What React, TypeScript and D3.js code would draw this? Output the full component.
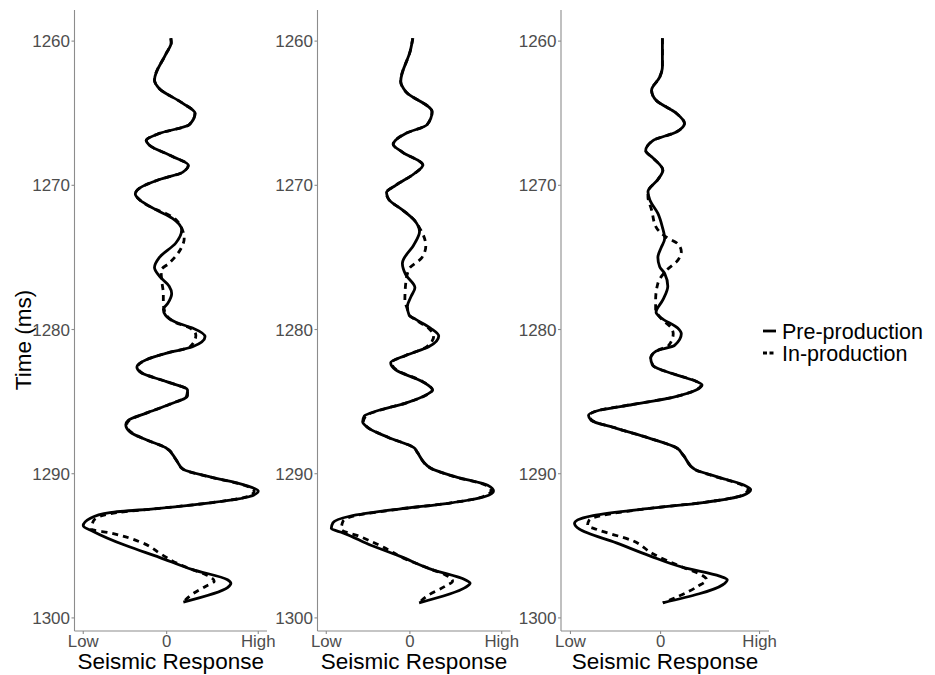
import React from "react";
import * as d3 from "d3";

// Seismic traces (time in ms, normalised amplitude) for three wells
type Pt = [number, number];

const well1Pre: Pt[] = [
  [1259.8, 0.05], [1260.1, 0.055], [1260.9, -0.01], [1262.7, -0.146], [1263.3, -0.087],
  [1264.3, 0.19], [1265.0, 0.34], [1265.8, 0.27], [1266.4, -0.087], [1266.9, -0.245],
  [1267.2, -0.21], [1268.0, 0.07], [1268.6, 0.26], [1269.1, 0.19], [1269.6, -0.087],
  [1270.2, -0.325], [1270.6, -0.376], [1271.0, -0.325], [1271.7, -0.126], [1272.3, 0.07],
  [1273.1, 0.18], [1274.0, 0.11], [1275.0, -0.087], [1275.7, -0.146], [1276.3, -0.087],
  [1277.0, 0.03], [1277.5, 0.06], [1278.2, 0.012], [1278.6, -0.04], [1279.0, -0.015],
  [1279.5, 0.11], [1279.9, 0.31], [1280.5, 0.46], [1281.2, 0.31], [1281.65, -0.01],
  [1282.1, -0.245], [1282.6, -0.357], [1283.0, -0.305], [1283.6, -0.01], [1284.2, 0.25],
  [1284.6, 0.25], [1285.2, 0.03], [1285.8, -0.245], [1286.3, -0.46], [1286.6, -0.49],
  [1287.1, -0.44], [1287.65, -0.245], [1288.2, -0.01], [1289.0, 0.11], [1289.7, 0.2],
  [1290.2, 0.51], [1290.8, 0.945], [1291.2, 1.098], [1291.6, 0.985], [1292.0, 0.55],
  [1292.4, -0.087], [1292.7, -0.68], [1293.1, -0.92], [1293.6, -1.0], [1294.0, -0.88],
  [1295.0, -0.48], [1295.8, -0.087], [1296.65, 0.31], [1297.35, 0.73], [1297.6, 0.77],
  [1297.9, 0.73], [1298.9, 0.2],
];

const well1In: Pt[] = [
  [1259.8, 0.05], [1260.1, 0.055], [1260.9, -0.01], [1262.7, -0.146], [1263.3, -0.087],
  [1264.3, 0.19], [1265.0, 0.34], [1265.8, 0.27], [1266.4, -0.087], [1266.9, -0.245],
  [1267.2, -0.21], [1268.0, 0.07], [1268.6, 0.26], [1269.1, 0.19], [1269.6, -0.087],
  [1270.2, -0.325], [1270.6, -0.376], [1271.0, -0.325], [1271.7, -0.12], [1271.95, -0.01],
  [1272.5, 0.13], [1273.7, 0.21], [1274.4, 0.17], [1275.4, 0.03], [1275.9, -0.067],
  [1276.8, -0.055], [1277.5, -0.04], [1278.1, -0.04], [1278.6, -0.03], [1279.0, -0.005],
  [1279.5, 0.1], [1279.9, 0.28], [1280.4, 0.35], [1281.2, 0.28], [1281.65, -0.01],
  [1282.1, -0.245], [1282.6, -0.35], [1283.0, -0.3], [1283.6, -0.01], [1284.2, 0.25],
  [1284.6, 0.24], [1285.2, 0.03], [1285.8, -0.245], [1286.3, -0.45], [1286.6, -0.48],
  [1287.1, -0.43], [1287.65, -0.245], [1288.2, -0.01], [1289.0, 0.11], [1289.7, 0.2],
  [1290.2, 0.5], [1290.8, 0.93], [1291.2, 1.05], [1291.6, 0.96], [1292.0, 0.55],
  [1292.4, -0.087], [1292.7, -0.6], [1293.0, -0.82], [1293.3, -0.88], [1293.85, -0.9],
  [1294.1, -0.68], [1294.8, -0.29], [1295.6, -0.06], [1296.2, 0.12], [1296.65, 0.31],
  [1297.0, 0.47], [1297.45, 0.57], [1297.8, 0.47], [1298.3, 0.32], [1298.9, 0.2],
];

const well2Pre: Pt[] = [
  [1259.8, 0.035], [1260.6, 0.008], [1262.8, -0.11], [1263.5, -0.05], [1264.9, 0.265],
  [1265.8, 0.205], [1266.4, -0.05], [1267.15, -0.2], [1267.7, -0.09], [1268.6, 0.155],
  [1269.2, 0.05], [1270.0, -0.17], [1270.5, -0.28], [1271.0, -0.25], [1271.7, -0.09],
  [1272.4, 0.05], [1273.2, 0.115], [1274.1, 0.05], [1275.4, -0.09], [1276.2, -0.05],
  [1277.1, 0.06], [1277.7, 0.015], [1278.4, -0.03], [1279.0, -0.01], [1279.3, 0.07],
  [1279.9, 0.245], [1280.45, 0.345], [1281.2, 0.225], [1281.8, -0.05], [1282.3, -0.23],
  [1282.8, -0.17], [1283.6, 0.145], [1284.2, 0.27], [1284.5, 0.205], [1285.1, -0.05],
  [1285.6, -0.37], [1286.0, -0.545], [1286.4, -0.565], [1286.8, -0.505], [1287.5, -0.25],
  [1288.2, 0.05], [1288.5, 0.087], [1289.6, 0.245], [1290.2, 0.54], [1290.8, 0.93],
  [1291.2, 1.0], [1291.6, 0.89], [1292.05, 0.46], [1292.45, -0.13], [1292.95, -0.72],
  [1293.4, -0.92], [1293.8, -0.94], [1294.1, -0.8], [1295.0, -0.45], [1295.7, -0.13],
  [1296.65, 0.265], [1297.35, 0.66], [1297.6, 0.72], [1297.9, 0.66], [1298.95, 0.11],
];

const well2In: Pt[] = [
  [1259.8, 0.035], [1260.6, 0.008], [1262.8, -0.11], [1263.5, -0.05], [1264.9, 0.265],
  [1265.8, 0.205], [1266.4, -0.05], [1267.15, -0.2], [1267.7, -0.09], [1268.6, 0.155],
  [1269.2, 0.05], [1270.0, -0.17], [1270.5, -0.28], [1271.0, -0.25], [1271.7, -0.09],
  [1272.4, 0.05], [1272.9, 0.11], [1274.2, 0.19], [1275.0, 0.145], [1275.8, -0.01],
  [1276.8, -0.05], [1277.95, -0.06], [1278.6, -0.03], [1279.0, -0.01], [1279.3, 0.06],
  [1279.9, 0.22], [1280.45, 0.285], [1281.2, 0.2], [1281.8, -0.05], [1282.3, -0.22],
  [1282.8, -0.16], [1283.6, 0.15], [1284.2, 0.27], [1284.5, 0.21], [1285.1, -0.05],
  [1285.6, -0.36], [1286.0, -0.53], [1286.4, -0.555], [1286.8, -0.5], [1287.5, -0.25],
  [1288.2, 0.05], [1288.5, 0.087], [1289.6, 0.245], [1290.2, 0.53], [1290.8, 0.91],
  [1291.2, 0.97], [1291.6, 0.87], [1292.05, 0.46], [1292.45, -0.12], [1292.95, -0.68],
  [1293.3, -0.8], [1293.85, -0.82], [1294.35, -0.6], [1295.3, -0.25], [1295.7, -0.13],
  [1296.65, 0.265], [1297.0, 0.42], [1297.45, 0.51], [1297.8, 0.42], [1298.5, 0.2],
  [1298.95, 0.11],
];

const well3Pre: Pt[] = [
  [1259.8, 0.02], [1261.8, 0.02], [1262.5, -0.01], [1263.4, -0.1], [1264.1, -0.05],
  [1265.0, 0.175], [1265.7, 0.265], [1266.3, 0.175], [1266.9, -0.085], [1267.6, -0.165],
  [1268.1, -0.085], [1268.95, 0.025], [1269.6, -0.03], [1270.45, -0.14], [1271.0, -0.12],
  [1271.95, -0.03], [1272.9, 0.02], [1273.7, 0.045], [1274.3, 0.008], [1275.0, -0.03],
  [1275.65, -0.01], [1276.1, 0.045], [1277.0, 0.08], [1277.95, 0.025], [1278.8, -0.05],
  [1279.2, 0.008], [1279.9, 0.19], [1280.3, 0.23], [1281.1, 0.155], [1281.5, -0.05],
  [1282.0, -0.11], [1282.5, -0.085], [1283.15, 0.175], [1283.6, 0.395], [1283.85, 0.46],
  [1284.2, 0.395], [1284.7, 0.135], [1285.2, -0.31], [1285.6, -0.68], [1285.95, -0.8],
  [1286.3, -0.77], [1286.85, -0.49], [1287.55, -0.12], [1288.2, 0.175], [1288.7, 0.25],
  [1289.7, 0.38], [1290.2, 0.62], [1290.8, 0.93], [1291.1, 1.0], [1291.5, 0.915],
  [1292.0, 0.47], [1292.4, -0.12], [1292.9, -0.75], [1293.2, -0.92], [1293.45, -0.955],
  [1293.85, -0.9], [1294.8, -0.49], [1295.7, -0.12], [1296.5, 0.25], [1297.1, 0.655],
  [1297.35, 0.74], [1297.7, 0.69], [1298.95, 0.025],
];

const well3In: Pt[] = [
  [1259.8, 0.02], [1261.8, 0.02], [1262.5, -0.01], [1263.4, -0.1], [1264.1, -0.05],
  [1265.0, 0.175], [1265.7, 0.265], [1266.3, 0.175], [1266.9, -0.085], [1267.6, -0.165],
  [1268.1, -0.085], [1268.95, 0.025], [1269.6, -0.03], [1270.45, -0.14], [1270.8, -0.14],
  [1271.7, -0.1], [1272.9, -0.05], [1273.6, 0.065], [1274.05, 0.19], [1274.6, 0.23],
  [1275.2, 0.19], [1275.9, 0.065], [1276.8, -0.03], [1277.95, -0.055], [1278.6, -0.055],
  [1279.2, 0.0], [1279.9, 0.12], [1280.3, 0.14], [1281.1, 0.09], [1281.5, -0.05],
  [1282.0, -0.11], [1282.5, -0.085], [1283.15, 0.18], [1283.6, 0.4], [1283.85, 0.45],
  [1284.2, 0.39], [1284.7, 0.135], [1285.2, -0.31], [1285.6, -0.68], [1285.95, -0.79],
  [1286.3, -0.76], [1286.85, -0.49], [1287.55, -0.12], [1288.2, 0.175], [1288.7, 0.25],
  [1289.7, 0.38], [1290.2, 0.61], [1290.8, 0.91], [1291.1, 0.97], [1291.5, 0.9],
  [1292.0, 0.47], [1292.4, -0.12], [1292.9, -0.65], [1293.2, -0.79], [1293.6, -0.81],
  [1293.85, -0.715], [1294.65, -0.31], [1295.55, -0.085], [1296.5, 0.25], [1297.0, 0.45],
  [1297.35, 0.51], [1297.8, 0.415], [1298.5, 0.2], [1298.95, 0.025],
];

const seriesNames = ["Pre-production", "In-production"];
const timeTicks = [1260, 1270, 1280, 1290, 1300];
const ampTickLabels = ["Low", "0", "High"];

const wells = [
  { pre: well1Pre, inProd: well1In },
  { pre: well2Pre, inProd: well2In },
  { pre: well3Pre, inProd: well3In },
];

// Layout
const W = 935;
const H = 675;
const PANEL_TOP = 10;
const PANEL_BOTTOM = 631;
const panelX: [number, number][] = [
  [74.5, 267],
  [317.5, 510.5],
  [561, 769],
];
const FONT = "'Liberation Sans', Arial, Helvetica, sans-serif";
const AXIS_GREY = "#8c8c8c";
const TEXT_GREY = "#4d4d4d";
const LINE_W = 2.8;
const DASH = "6 5";

// Shared amplitude and time extents (all panels use the same limits)
const allPts = wells.flatMap((w) => [...w.pre, ...w.inProd]);
const [ampLo, ampHi] = d3.extent(allPts, (d) => d[1]) as [number, number];
const [tLo, tHi] = d3.extent(allPts, (d) => d[0]) as [number, number];
const ampPad = (ampHi - ampLo) * 0.05;
const tPad = (tHi - tLo) * 0.05;
const ampTicks = [ampLo, 0, ampHi];

const yScale = d3
  .scaleLinear()
  .domain([tLo - tPad, tHi + tPad])
  .range([PANEL_TOP, PANEL_BOTTOM]);

function Label(props: {
  x: number;
  y: number;
  size: number;
  anchor?: string;
  fill?: string;
  rotate?: number;
  children: React.ReactNode;
}) {
  const { x, y, size, anchor = "start", fill = "#000", rotate = 0, children } = props;
  return (
    <text
      transform={`translate(${x},${y})${rotate ? ` rotate(${rotate})` : ""}`}
      fontFamily={FONT}
      fontSize={size}
      textAnchor={anchor}
      fill={fill}
    >
      {children}
    </text>
  );
}

function Panel({ idx }: { idx: number }) {
  const [x0, x1] = panelX[idx];
  const x = d3.scaleLinear().domain([ampLo - ampPad, ampHi + ampPad]).range([x0, x1]);
  const line = d3
    .line<Pt>()
    .x((d) => x(d[1]))
    .y((d) => yScale(d[0]))
    .curve(d3.curveMonotoneY);
  const w = wells[idx];
  return (
    <g>
      {/* axes */}
      <line x1={x0} x2={x0} y1={PANEL_TOP} y2={PANEL_BOTTOM} stroke={AXIS_GREY} strokeWidth={1.1} />
      <line x1={x0} x2={x1} y1={PANEL_BOTTOM} y2={PANEL_BOTTOM} stroke={AXIS_GREY} strokeWidth={1.1} />
      {timeTicks.map((t) => (
        <g key={t}>
          <line x1={x0 - 3} x2={x0} y1={yScale(t)} y2={yScale(t)} stroke={AXIS_GREY} strokeWidth={1.1} />
          <Label x={x0 - 4.5} y={yScale(t) + 6} size={17} anchor="end" fill={TEXT_GREY}>
            {t}
          </Label>
        </g>
      ))}
      {ampTicks.map((v, i) => (
        <g key={i}>
          <line x1={x(v)} x2={x(v)} y1={PANEL_BOTTOM} y2={PANEL_BOTTOM + 3} stroke={AXIS_GREY} strokeWidth={1.1} />
          <Label x={x(v)} y={646.5} size={16.8} anchor="middle" fill={TEXT_GREY}>
            {ampTickLabels[i]}
          </Label>
        </g>
      ))}
      <Label x={(x0 + x1) / 2} y={669} size={22.5} anchor="middle">
        Seismic Response
      </Label>
      {/* traces */}
      <path d={line(w.pre) ?? ""} fill="none" stroke="#000" strokeWidth={LINE_W} strokeLinejoin="round" />
      <path
        d={line(w.inProd) ?? ""}
        fill="none"
        stroke="#000"
        strokeWidth={LINE_W}
        strokeDasharray={DASH}
        strokeLinejoin="round"
      />
    </g>
  );
}

export default function App() {
  return (
    <svg
      width={W}
      height={H}
      style={{ position: "absolute", left: 0, top: 0, display: "block", background: "#fff" }}
    >
      <rect width={W} height={H} fill="#fff" />
      {wells.map((_, i) => (
        <Panel key={i} idx={i} />
      ))}
      <Label x={31} y={340} size={22.5} anchor="middle" rotate={-90}>
        Time (ms)
      </Label>
      {/* legend */}
      <g>
        <line x1={763} x2={776} y1={331} y2={331} stroke="#000" strokeWidth={LINE_W} />
        <line x1={763} x2={776} y1={353} y2={353} stroke="#000" strokeWidth={LINE_W} strokeDasharray="4 2.5" />
        <Label x={782} y={338.5} size={21.5}>
          {seriesNames[0]}
        </Label>
        <Label x={782} y={360.5} size={21.5}>
          {seriesNames[1]}
        </Label>
      </g>
    </svg>
  );
}
